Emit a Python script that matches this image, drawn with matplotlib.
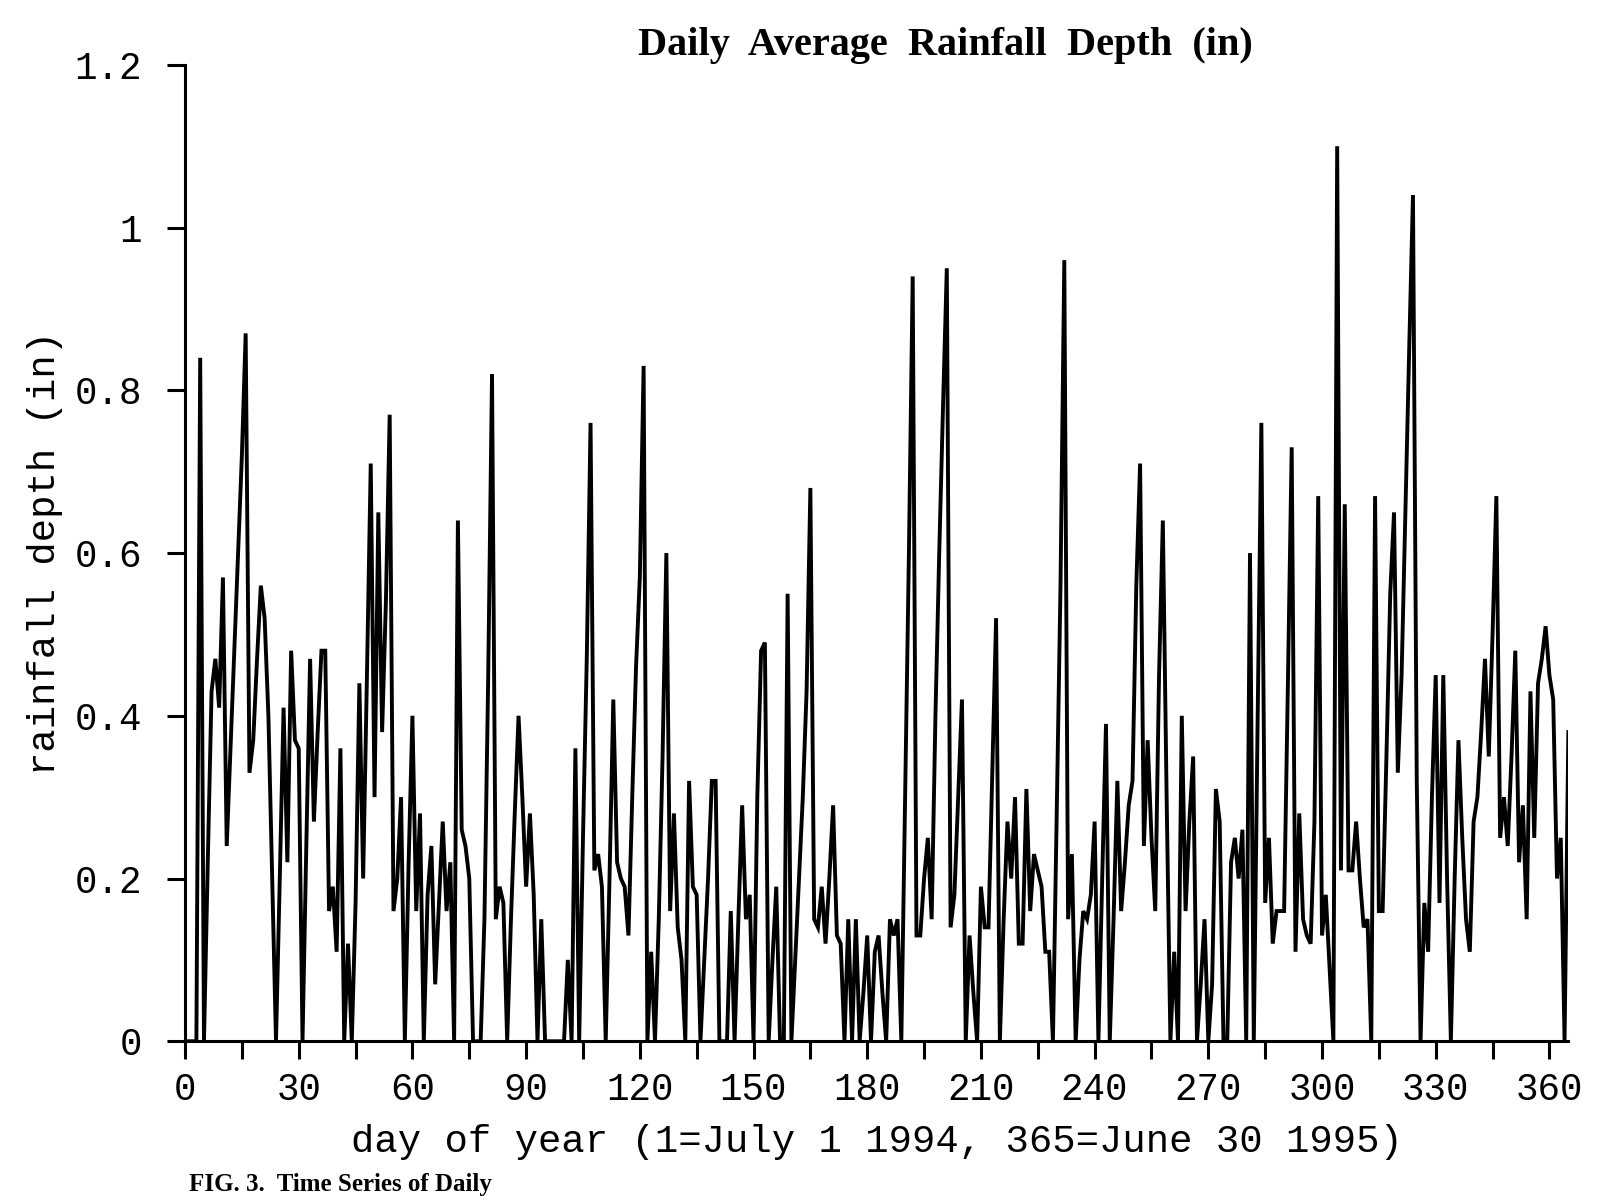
import numpy as np
import matplotlib
matplotlib.use('Agg')
import matplotlib.pyplot as plt
from matplotlib import rcParams
from matplotlib.ticker import MultipleLocator

SIZE = 27
rcParams['font.family'] = 'Liberation Mono'
rcParams['font.size'] = SIZE
rcParams['xtick.labelsize'] = SIZE
rcParams['ytick.labelsize'] = SIZE
rcParams['axes.labelsize'] = 28

# daily average rainfall depth (in), day 0 .. 365
rain = [
    0, 0, 0, 0, 0.84, 0, 0.22, 0.43, 0.47, 0.41,
    0.57, 0.24, 0.36, 0.48, 0.60, 0.72, 0.87, 0.33, 0.37, 0.47,
    0.56, 0.52, 0.40, 0.20, 0, 0.20, 0.41, 0.22, 0.48, 0.37,
    0.36, 0, 0.24, 0.47, 0.27, 0.38, 0.48, 0.48, 0.16, 0.19,
    0.11, 0.36, 0, 0.12, 0, 0.17, 0.44, 0.20, 0.45, 0.71,
    0.30, 0.65, 0.38, 0.54, 0.77, 0.16, 0.20, 0.30, 0, 0.22,
    0.40, 0.16, 0.28, 0, 0.18, 0.24, 0.07, 0.17, 0.27, 0.16,
    0.22, 0, 0.64, 0.26, 0.24, 0.20, 0, 0, 0, 0.15,
    0.45, 0.82, 0.15, 0.19, 0.17, 0, 0.15, 0.28, 0.40, 0.30,
    0.19, 0.28, 0.18, 0, 0.15, 0, 0, 0, 0, 0,
    0, 0.10, 0, 0.36, 0, 0.25, 0.47, 0.76, 0.21, 0.23,
    0.19, 0, 0.20, 0.42, 0.22, 0.20, 0.19, 0.13, 0.30, 0.46,
    0.57, 0.83, 0, 0.11, 0, 0.15, 0.35, 0.60, 0.16, 0.28,
    0.14, 0.10, 0, 0.32, 0.19, 0.18, 0, 0.10, 0.20, 0.32,
    0.32, 0, 0, 0, 0.16, 0, 0.15, 0.29, 0.15, 0.18,
    0, 0.30, 0.48, 0.49, 0, 0.10, 0.19, 0, 0, 0.55,
    0, 0.10, 0.20, 0.30, 0.43, 0.68, 0.15, 0.14, 0.19, 0.12,
    0.20, 0.29, 0.13, 0.12, 0, 0.15, 0, 0.15, 0, 0.06,
    0.13, 0, 0.11, 0.13, 0.06, 0, 0.15, 0.13, 0.15, 0,
    0.30, 0.60, 0.94, 0.13, 0.13, 0.20, 0.25, 0.15, 0.40, 0.60,
    0.78, 0.95, 0.14, 0.18, 0.30, 0.42, 0, 0.13, 0.06, 0,
    0.19, 0.14, 0.14, 0.33, 0.52, 0, 0.15, 0.27, 0.20, 0.30,
    0.12, 0.12, 0.31, 0.16, 0.23, 0.21, 0.19, 0.11, 0.11, 0,
    0.28, 0.56, 0.96, 0.15, 0.23, 0, 0.10, 0.16, 0.15, 0.18,
    0.27, 0, 0.20, 0.39, 0, 0.15, 0.32, 0.16, 0.22, 0.29,
    0.32, 0.56, 0.71, 0.24, 0.37, 0.25, 0.16, 0.45, 0.64, 0.30,
    0, 0.11, 0, 0.40, 0.16, 0.27, 0.35, 0, 0.07, 0.15,
    0, 0.07, 0.31, 0.27, 0, 0, 0.22, 0.25, 0.20, 0.26,
    0, 0.60, 0, 0.39, 0.76, 0.17, 0.25, 0.12, 0.16, 0.16,
    0.16, 0.44, 0.73, 0.11, 0.28, 0.15, 0.13, 0.12, 0.27, 0.67,
    0.13, 0.18, 0.09, 0, 1.10, 0.21, 0.66, 0.21, 0.21, 0.27,
    0.20, 0.14, 0.15, 0, 0.67, 0.16, 0.16, 0.35, 0.55, 0.65,
    0.33, 0.45, 0.65, 0.85, 1.04, 0.32, 0, 0.17, 0.11, 0.30,
    0.45, 0.17, 0.45, 0.20, 0, 0.20, 0.37, 0.25, 0.15, 0.11,
    0.27, 0.30, 0.38, 0.47, 0.35, 0.50, 0.67, 0.25, 0.30, 0.24,
    0.35, 0.48, 0.22, 0.29, 0.15, 0.43, 0.25, 0.44, 0.47, 0.51,
    0.45, 0.42, 0.20, 0.25, 0, 0.38,
]
day = np.arange(len(rain))

xticks = list(range(0, 361, 30))
yticks = [0, 0.2, 0.4, 0.6, 0.8, 1.0, 1.2]
ytick_labels = ['0', '0.2', '0.4', '0.6', '0.8', '1', '1.2']

fig = plt.figure(figsize=(16.02, 12.01), dpi=100)
ax = fig.add_axes([0.1155, 0.133, 0.8635, 0.813])

ax.plot(day, rain, color='black', linewidth=2.8, solid_joinstyle='miter')

ax.set_xlim(0, 365)
ax.set_ylim(0, 1.2)
ax.set_xticks(xticks)
ax.xaxis.set_minor_locator(MultipleLocator(15))
ax.set_yticks(yticks)
ax.set_yticklabels(ytick_labels)

for s in ['top', 'right']:
    ax.spines[s].set_visible(False)
for s in ['left', 'bottom']:
    ax.spines[s].set_linewidth(2.2)
ax.tick_params(which='both', direction='out', length=13, width=2.2)
ax.tick_params(axis='x', which='major', pad=9)
ax.tick_params(axis='y', pad=18)

ax.set_xlabel('day of year (1=July 1 1994, 365=June 30 1995)', labelpad=12)
ax.set_ylabel('rainfall depth (in)', labelpad=18)
ax.yaxis.set_label_coords(-0.088, 0.5)

fig.text(0.59, 0.962, 'Daily  Average  Rainfall  Depth  (in)', ha='center', va='center',
         family='Liberation Serif', weight='bold', fontsize=29)
fig.text(0.118, 0.004, 'FIG. 3.  Time Series of Daily', ha='left', va='bottom',
         family='Liberation Serif', weight='bold', fontsize=18)

fig.savefig('out.png', dpi=100)
